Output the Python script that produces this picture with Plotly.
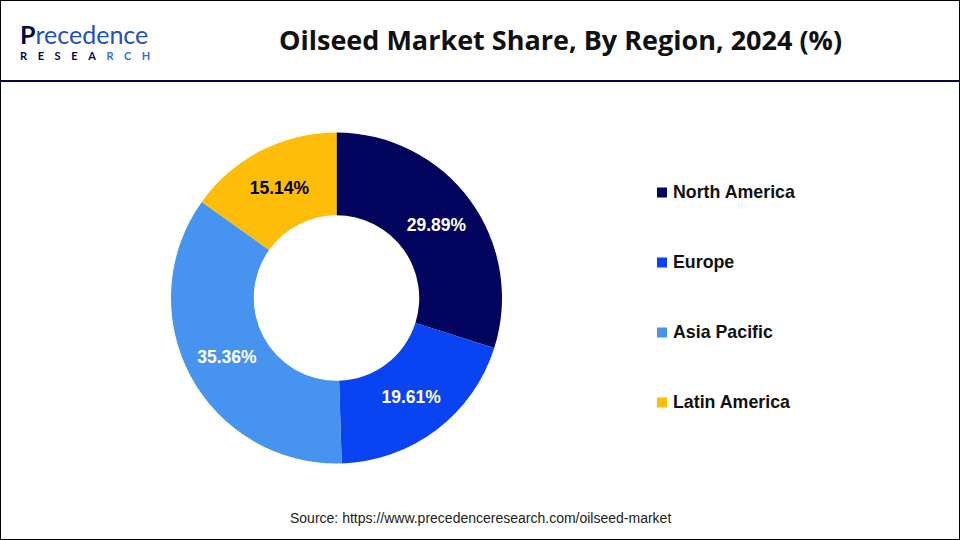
import plotly.graph_objects as go

regions = ["North America", "Europe", "Asia Pacific", "Latin America"]
shares = [29.89, 19.61, 35.36, 15.14]
colors = ["#03045e", "#0a44f2", "#4793f0", "#fdbd08"]
label_colors = ["white", "white", "white", "black"]

W, H = 960, 540
legend_x = 657
legend_y = [192, 262, 332, 402]

fig = go.Figure()
fig.add_trace(go.Pie(
    labels=regions,
    values=shares,
    hole=0.5,
    sort=False,
    direction="clockwise",
    rotation=0,
    marker=dict(colors=colors, line=dict(width=0)),
    text=[f"<b>{v:.2f}%</b>" for v in shares],
    textinfo="text",
    textposition="inside",
    insidetextorientation="horizontal",
    insidetextfont=dict(family="Liberation Sans", size=17.5, color=label_colors),
    domain=dict(x=[171 / W, 502 / W], y=[1 - 463.5 / H, 1 - 132.5 / H]),
    showlegend=False,
))

# frame and header rule
fig.add_shape(type="rect", xref="paper", yref="paper", x0=0, x1=1, y0=0, y1=1,
              line=dict(color="black", width=2))
fig.add_shape(type="line", xref="paper", yref="paper", x0=0, x1=1,
              y0=1 - 81 / H, y1=1 - 81 / H, line=dict(color="#03064a", width=2))

# legend by hand, the rows are spaced wider than the native one allows
for name, col, y in zip(regions, colors, legend_y):
    fig.add_shape(type="rect", xref="paper", yref="paper",
                  x0=legend_x / W, x1=(legend_x + 10) / W,
                  y0=1 - (y + 5.5) / H, y1=1 - (y - 4.5) / H,
                  fillcolor=col, line=dict(width=0))
    fig.add_annotation(x=671 / W, y=1 - y / H, xref="paper", yref="paper",
                       text=f"<b>{name}</b>", showarrow=False, xanchor="left", yanchor="middle",
                       font=dict(family="Liberation Sans", size=17.8, color="#111111"))

fig.add_annotation(x=560 / W, y=1 - 39.5 / H, xref="paper", yref="paper",
                   text="<b>Oilseed Market Share, By Region, 2024 (%)</b>", showarrow=False,
                   xanchor="center", yanchor="middle",
                   font=dict(family="Open Sans", size=27, color="#111111"))
fig.add_annotation(x=480 / W, y=1 - 518 / H, xref="paper", yref="paper",
                   text="Source: https://www.precedenceresearch.com/oilseed-market", showarrow=False,
                   xanchor="center", yanchor="middle",
                   font=dict(family="Liberation Sans", size=14, color="#222222"))

# logo as one two-line text, base size sets the gap between the lines
logo_top = ("<span style='font-size:25px'><b>P</b>"
            "<span style='color:#1f4fc0'>recedence</span></span>")
logo_bottom = ("<span style='font-size:11px;letter-spacing:10.6px'><b>RESEA"
               "<span style='color:#2f6fd8'>RCH</span></b></span>")
fig.add_annotation(x=18 / W, y=1 - 40 / H, xref="paper", yref="paper",
                   text=logo_top + "<br>" + logo_bottom, showarrow=False,
                   xanchor="left", yanchor="middle", align="left",
                   font=dict(family="Lato", size=12.3, color="#03064a"))

fig.update_layout(
    width=W, height=H,
    margin=dict(l=0, r=0, t=0, b=0),
    paper_bgcolor="white",
)
fig.write_html("out.html", config=dict(displayModeBar=False),
               post_script="document.body.style.margin = '0';")
